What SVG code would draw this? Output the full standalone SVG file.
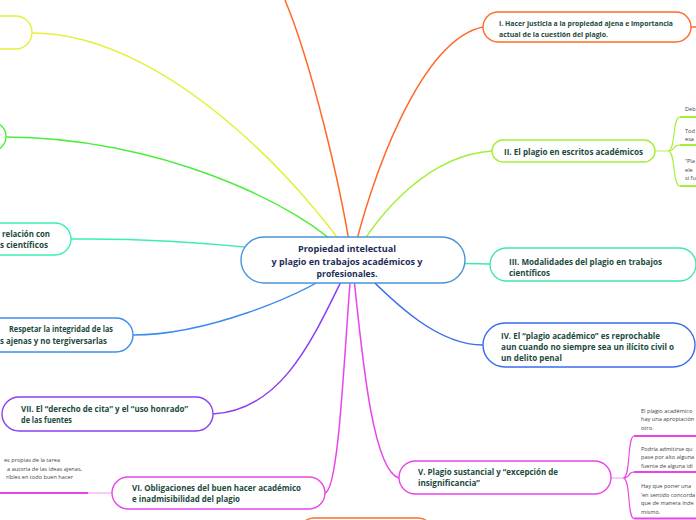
<svg xmlns="http://www.w3.org/2000/svg" width="696" height="520" viewBox="0 0 696 520">
<style>
.n{fill:#fff;stroke-width:1.4}
.c{fill:none;stroke-width:1.5}
.t{font-family:"Open Sans","Noto Sans",sans-serif;font-weight:700;font-size:8.5px;fill:#1c4a3d}
.t1{font-size:7.3px}
.ct{font-family:"Open Sans","Noto Sans",sans-serif;font-weight:700;font-size:9.5px;fill:#1b2e55;text-anchor:middle}
.s{font-family:"Open Sans","Noto Sans",sans-serif;font-size:5.6px;fill:#444}
.u{fill:none;stroke-width:2}
.b{fill:none;stroke-width:1.1}
</style>
<rect width="696" height="520" fill="#fff"/>
<g id="connectors">
<path class="c" stroke="#e4f03c" d="M352,260 C330,220 180,33 32,33"/>
<path class="c" stroke="#4ded3e" d="M352,260 C300,200 150,137 6,137"/>
<path class="c" stroke="#3ceeb4" d="M352,260 C250,245 150,238 71,239"/>
<path class="c" stroke="#3c8cf0" d="M352,260 C300,300 200,335 133,335"/>
<path class="c" stroke="#8a40f0" d="M352,260 C320,320 290,410 213,414"/>
<path class="c" stroke="#e844e8" d="M352,260 C345,330 340,490 325,493"/>
<path class="c" stroke="#e844e8" d="M352,260 C360,330 370,470 399,478"/>
<path class="c" stroke="#3a6cf0" d="M352,260 C400,310 440,345 483,345"/>
<path class="c" stroke="#40e8a8" d="M352,260 C420,262 460,264 490,264"/>
<path class="c" stroke="#a4ee3a" d="M352,260 C380,210 430,155 492,151"/>
<path class="c" stroke="#ff6a2a" d="M352,260 C370,180 420,40 483,27"/>
<path class="c" stroke="#ff6a2a" d="M352,260 C340,180 310,60 285,0"/>
<path class="c" stroke="#ff6a2a" d="M691,27 L697,27"/>
<path class="b" stroke="#b8f070" d="M655,151 L668,151"/>
<path class="b" stroke="#a4ee3a" d="M668,151 C676,151 672,117 680,117 M668,151 C676,151 672,145 680,145 M668,151 C676,151 672,186 680,186"/>
<path class="u" stroke="#a4ee3a" d="M680,117 L698,117 M680,145 L698,145 M680,186 L698,186"/>
<path class="b" stroke="#f4a0f4" d="M611,478 L623,478"/>
<path class="b" stroke="#e844e8" d="M623,478 C631,478 627,436 634,436 M623,478 C631,478 627,472 634,472 M623,478 C631,478 627,518.5 634,518.5"/>
<path class="u" stroke="#e844e8" d="M634,436 L698,436 M634,472 L698,472 M634,518.5 L698,518.5"/>
<path class="b" stroke="#f4a0f4" d="M112,493 L88,493"/>
<path class="u" stroke="#e844e8" d="M88,493 L-2,493"/>
</g>
<g id="central">
<rect class="n" stroke="#4a94d8" x="241" y="237" width="224" height="46" rx="23"/>
<text class="ct" x="347" y="251.5" textLength="98" lengthAdjust="spacingAndGlyphs">Propiedad intelectual</text>
<text class="ct" x="347" y="265" textLength="151" lengthAdjust="spacingAndGlyphs">y plagio en trabajos académicos y</text>
<text class="ct" x="347" y="276.5" textLength="61" lengthAdjust="spacingAndGlyphs">profesionales.</text>
</g>
<g id="node-yellow"><rect class="n" stroke="#e4f03c" x="-160" y="16" width="192" height="33" rx="16.5"/></g>
<g id="node-green"><rect class="n" stroke="#4ded3e" x="-160" y="122" width="166" height="29" rx="14.5"/></g>
<g id="node-relacion">
<rect class="n" stroke="#3ceeb4" x="-120" y="223" width="191" height="32" rx="16"/>
<text class="t" x="2" y="237" textLength="48" lengthAdjust="spacingAndGlyphs">relación con</text>
<text class="t" x="0" y="248" textLength="48" lengthAdjust="spacingAndGlyphs">s científicos</text>
</g>
<g id="node-respetar">
<rect class="n" stroke="#3c8cf0" x="-120" y="318" width="253" height="34" rx="17"/>
<text class="t" x="9" y="332" textLength="104" lengthAdjust="spacingAndGlyphs">Respetar la integridad de las</text>
<text class="t" x="0" y="344" textLength="107" lengthAdjust="spacingAndGlyphs">s ajenas y no tergiversarlas</text>
</g>
<g id="node-VII">
<rect class="n" stroke="#8a40f0" x="2" y="397" width="211" height="34" rx="17"/>
<text class="t" x="21" y="412" textLength="167" lengthAdjust="spacingAndGlyphs">VII. El “derecho de cita” y el “uso honrado”</text>
<text class="t" x="21" y="423" textLength="51" lengthAdjust="spacingAndGlyphs">de las fuentes</text>
</g>
<g id="node-VI">
<rect class="n" stroke="#e844e8" x="112" y="477" width="213" height="32" rx="16"/>
<text class="t" x="132" y="491" textLength="169" lengthAdjust="spacingAndGlyphs">VI. Obligaciones del buen hacer académico</text>
<text class="t" x="132" y="502" textLength="108" lengthAdjust="spacingAndGlyphs">e inadmisibilidad del plagio</text>
</g>
<g id="sub-VI">
<text class="s" x="60" y="462" text-anchor="end">es propias de la tarea</text>
<text class="s" x="82" y="471" text-anchor="end">a autoría de las ideas ajenas,</text>
<text class="s" x="73" y="479" text-anchor="end">ribles en todo buen hacer</text>
</g>
<g id="node-bottom"><rect class="n" stroke="#ff6a2a" x="299" y="518" width="134" height="30" rx="15"/></g>
<g id="node-I">
<rect class="n" stroke="#ff6a2a" x="483" y="12" width="208" height="30" rx="15"/>
<text class="t t1" x="499" y="26" textLength="174" lengthAdjust="spacingAndGlyphs">I. Hacer justicia a la propiedad ajena e importancia</text>
<text class="t t1" x="499" y="36.5" textLength="109" lengthAdjust="spacingAndGlyphs">actual de la cuestión del plagio.</text>
</g>
<g id="node-II">
<rect class="n" stroke="#a4ee3a" x="492" y="140" width="163" height="22" rx="11"/>
<text class="t" x="504" y="154.5" textLength="139" lengthAdjust="spacingAndGlyphs">II. El plagio en escritos académicos</text>
</g>
<g id="sub-II">
<text class="s" x="685" y="111">Deb</text>
<text class="s" x="685" y="133">Tod</text>
<text class="s" x="685" y="141">esa</text>
<text class="s" x="685" y="163">“Pla</text>
<text class="s" x="685" y="171.5">ele</text>
<text class="s" x="685" y="180">si fu</text>
</g>
<g id="node-III">
<rect class="n" stroke="#40e8a8" x="490" y="248" width="206" height="33" rx="16.5"/>
<text class="t" x="509" y="265" textLength="153" lengthAdjust="spacingAndGlyphs">III. Modalidades del plagio en trabajos</text>
<text class="t" x="509" y="276" textLength="41" lengthAdjust="spacingAndGlyphs">científicos</text>
</g>
<g id="node-IV">
<rect class="n" stroke="#3a6cf0" x="483" y="323" width="212" height="44" rx="22"/>
<text class="t" x="501" y="339" textLength="159" lengthAdjust="spacingAndGlyphs">IV. El “plagio académico” es reprochable</text>
<text class="t" x="501" y="350" textLength="173" lengthAdjust="spacingAndGlyphs">aun cuando no siempre sea un ilícito civil o</text>
<text class="t" x="501" y="361" textLength="61" lengthAdjust="spacingAndGlyphs">un delito penal</text>
</g>
<g id="node-V">
<rect class="n" stroke="#e844e8" x="399" y="461" width="212" height="33" rx="16.5"/>
<text class="t" x="418" y="474.5" textLength="140" lengthAdjust="spacingAndGlyphs">V. Plagio sustancial y “excepción de</text>
<text class="t" x="418" y="486" textLength="62" lengthAdjust="spacingAndGlyphs">insignificancia”</text>
</g>
<g id="sub-V">
<text class="s" x="641" y="413">El plagio académico</text>
<text class="s" x="641" y="421">hay una apropiación</text>
<text class="s" x="641" y="430">otro.</text>
<text class="s" x="641" y="451">Podría admitirse qu</text>
<text class="s" x="641" y="459">pase por alto alguna</text>
<text class="s" x="641" y="468">fuente de alguna idi</text>
<text class="s" x="641" y="488">Hay que poner una</text>
<text class="s" x="641" y="496.5">‘en sentido concorda</text>
<text class="s" x="641" y="505">que de manera inde</text>
<text class="s" x="641" y="514">mismo.</text>
</g>
</svg>
